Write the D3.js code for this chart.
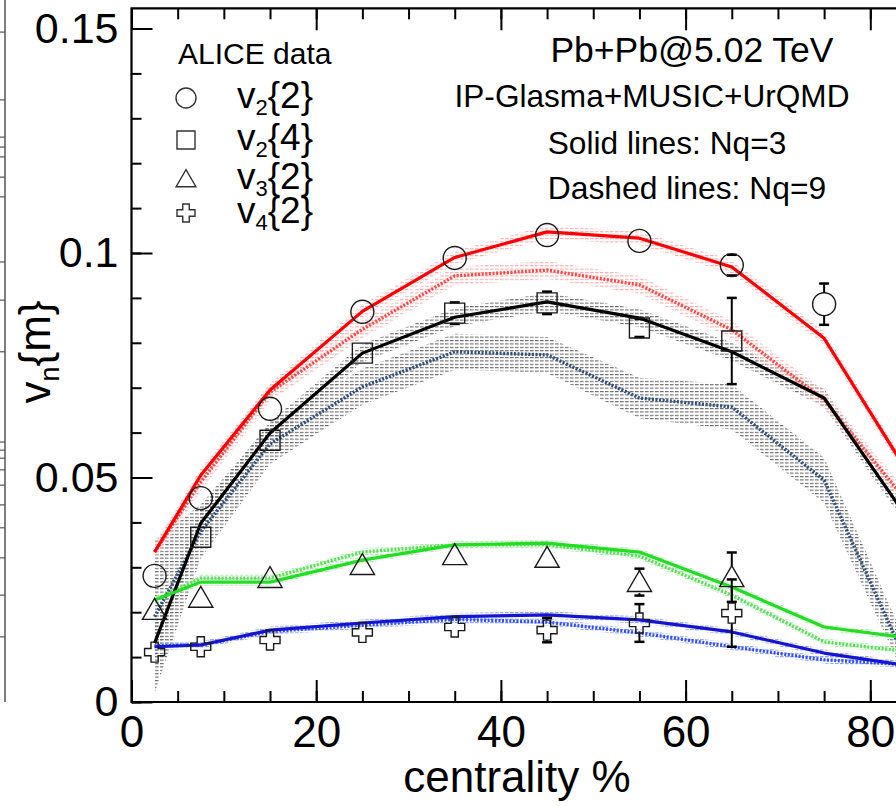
<!DOCTYPE html>
<html><head><meta charset="utf-8">
<script src="https://cdn.jsdelivr.net/npm/d3@7"></script>
<style>
html,body{margin:0;padding:0;background:#fff;}
svg{display:block;}
text{font-family:"Liberation Sans",Arial,Helvetica,sans-serif;fill:#000;}
</style></head>
<body>
<svg id="chart" width="896" height="806"></svg>
<script>
// ---------------- data ----------------
const dataCent   = [2.5, 7.5, 15, 25, 35, 45, 55, 65, 75];
const v22        = [0.0281, 0.0454, 0.0653, 0.0869, 0.0989, 0.1040, 0.1027, 0.0973, 0.0886];
const v22Err     = [0, 0, 0, 0, 0, 0, 0, 0.0023, 0.0046];
const v24Cent    = [7.5, 15, 25, 35, 45, 55, 65];
const v24        = [0.0367, 0.0583, 0.0777, 0.0866, 0.0889, 0.0833, 0.0804];
const v24Err     = [0, 0, 0, 0.0024, 0.0025, 0.0020, 0.0096];
const v3Cent     = [2.5, 7.5, 15, 25, 35, 45, 55, 65];
const v32        = [0.0205, 0.0232, 0.0276, 0.0305, 0.0327, 0.0321, 0.0267, 0.0278];
const v32Err     = [0, 0, 0, 0, 0, 0, 0.0030, 0.0055];
const v42        = [0.0111, 0.0123, 0.0138, 0.0155, 0.0167, 0.0160, 0.0176, 0.0198];
const v42Err     = [0, 0, 0, 0, 0, 0.0027, 0.0042, 0.0075];

const modelCent  = [2.5, 7.5, 15, 25, 35, 45, 55, 65, 75, 85];
const v22Nq3     = [0.0334, 0.0505, 0.0695, 0.0870, 0.0990, 0.1047, 0.1033, 0.0969, 0.0810, 0.0480];
const v22Nq3Err  = [0.0015, 0.0015, 0.0015, 0.0015, 0.0015, 0.0015, 0.0015, 0.0015, 0.0015, 0.0015];
const v22Nq9     = [0.0334, 0.0490, 0.0690, 0.0830, 0.0949, 0.0962, 0.0929, 0.0829, 0.0673, 0.0420];
const v22Nq9Err  = [0.0020, 0.0020, 0.0020, 0.0020, 0.0020, 0.0020, 0.0020, 0.0020, 0.0020, 0.0020];
const v24Nq3     = [0.0131, 0.0398, 0.0599, 0.0777, 0.0857, 0.0891, 0.0855, 0.0780, 0.0677, 0.0380];
const v24Nq3Err  = [0.0040, 0.0030, 0.0025, 0.0020, 0.0020, 0.0020, 0.0020, 0.0020, 0.0020, 0.0020];
const v24Nq9     = [0.0190, 0.0380, 0.0575, 0.0702, 0.0780, 0.0773, 0.0677, 0.0657, 0.0494, 0.0040];
const v24Nq9Err  = [0.0170, 0.0060, 0.0045, 0.0040, 0.0040, 0.0040, 0.0045, 0.0050, 0.0050, 0.0040];
const v32Nq3     = [0.0227, 0.0267, 0.0267, 0.0316, 0.0350, 0.0354, 0.0334, 0.0256, 0.0167, 0.0140];
const v32Nq9     = [0.0227, 0.0276, 0.0276, 0.0334, 0.0350, 0.0350, 0.0325, 0.0238, 0.0134, 0.0110];
const v42Nq3     = [0.0123, 0.0127, 0.0160, 0.0176, 0.0190, 0.0194, 0.0183, 0.0156, 0.0109, 0.0078];
const v42Nq9     = [0.0125, 0.0127, 0.0157, 0.0171, 0.0184, 0.0178, 0.0154, 0.0123, 0.0094, 0.0082];
const smallErr   = [0.0008, 0.0008, 0.0008, 0.0008, 0.0008, 0.0008, 0.0008, 0.0008, 0.0008, 0.0008];

const yTickLabels = [0, 0.05, 0.1, 0.15];
const xTickLabels = [0, 20, 40, 60, 80];
const neighbourTicks = [0.1492, 0.1341, 0.1258, 0.1236, 0.1214, 0.1169, 0.1125, 0.098, 0.0895, 0.078,
  0.0579, 0.0561, 0.0543, 0.0517, 0.0483, 0.0439, 0.0388, 0.0321, 0.0238, 0.0145];

const legendItems = [
  {sym: "circle",   n: "2", m: "2"},
  {sym: "square",   n: "2", m: "4"},
  {sym: "triangle", n: "3", m: "2"},
  {sym: "plus",     n: "4", m: "2"}
];
const infoLines = ["Pb+Pb@5.02 TeV", "IP-Glasma+MUSIC+UrQMD", "Solid lines: Nq=3", "Dashed lines: Nq=9"];

// ---------------- layout ----------------
const svg = d3.select("#chart");
const X0 = 131.5, PXU = 9.235;
const x = d3.scaleLinear().domain([0, 90]).range([X0, X0 + 90 * PXU]);
const y = d3.scaleLinear().domain([0, 0.1545]).range([702, 702 - 0.1545 * 4490]);
const [xL, xR] = x.range();
const [yB, yT] = y.range();

// patterns
const defs = svg.append("defs");
function hatch(id, color) {
  const p = defs.append("pattern").attr("id", id).attr("patternUnits", "userSpaceOnUse")
    .attr("width", 5).attr("height", 3.4);
  p.append("rect").attr("x", 0).attr("y", 0).attr("width", 3.6).attr("height", 1.1).attr("fill", color);
}
hatch("hGray", "#666");
hatch("hPink", "#ffaaaa");
hatch("hGreen", "#99f099");
hatch("hBlue", "#8899ff");
defs.append("clipPath").attr("id", "plotClip").append("rect")
  .attr("x", xL).attr("y", yT).attr("width", xR - xL).attr("height", yB - yT);

// neighbour panel (left, cut off)
const nb = svg.append("g");
nb.append("line").attr("x1", 5).attr("x2", 5).attr("y1", 0).attr("y2", yB).attr("stroke", "#555").attr("stroke-width", 1.5);
nb.selectAll("line.t").data(neighbourTicks).enter().append("line")
  .attr("x1", 0).attr("x2", 5).attr("y1", d => y(d)).attr("y2", d => y(d))
  .attr("stroke", "#555").attr("stroke-width", 1.2);

// plot area
const plot = svg.append("g").attr("clip-path", "url(#plotClip)");

const area = d3.area().x(d => x(d.c)).y0(d => y(d.v - d.e)).y1(d => y(d.v + d.e));
const line = d3.line().x(d => x(d.c)).y(d => y(d.v));
function pts(vals, errs) { return modelCent.map((c, i) => ({c, v: vals[i], e: errs ? errs[i] : 0})); }

const bands = [
  [v24Nq9, v24Nq9Err, "hGray"],
  [v24Nq3, v24Nq3Err, "hGray"],
  [v22Nq9, v22Nq9Err, "hPink"],
  [v22Nq3, v22Nq3Err, "hPink"],
  [v32Nq9, smallErr, "hGreen"],
  [v32Nq3, smallErr, "hGreen"],
  [v42Nq9, smallErr, "hBlue"],
  [v42Nq3, smallErr, "hBlue"]
];
bands.forEach(([v, e, pat]) => {
  plot.append("path").datum(pts(v, e)).attr("d", area).attr("fill", `url(#${pat})`);
});

const curves = [
  [v24Nq9, "#2d4f7c", true],
  [v22Nq9, "#ff4444", true],
  [v32Nq9, "#55e055", true],
  [v42Nq9, "#3050ff", true],
  [v24Nq3, "#000000", false],
  [v22Nq3, "#ff0000", false],
  [v32Nq3, "#22dd22", false],
  [v42Nq3, "#1515d0", false]
];
curves.forEach(([v, col, dashed]) => {
  plot.append("path").datum(pts(v)).attr("d", line).attr("fill", "none")
    .attr("stroke", col).attr("stroke-width", dashed ? 3.4 : 3.2)
    .attr("stroke-dasharray", dashed ? "2,1.6" : null)
    .attr("stroke-linejoin", "round");
});

// markers
const R = 11.5;
function markerPath(sym, s) {
  if (sym === "square") return `M${-s},${-s}H${s}V${s}H${-s}Z`;
  if (sym === "triangle") { const h = s * 1.9; return `M0,${-h * 0.55}L${s * 1.1},${h * 0.45}L${-s * 1.1},${h * 0.45}Z`; }
  const a = s * 0.36;
  return `M${-a},${-s}H${a}V${-a}H${s}V${a}H${a}V${s}H${-a}V${a}H${-s}V${-a}H${-a}Z`;
}
function drawMarker(g, sym, cx, cy, s, col) {
  if (sym === "circle") {
    g.append("circle").attr("cx", cx).attr("cy", cy).attr("r", s).attr("fill", "none").attr("stroke", col).attr("stroke-width", 1.4);
  } else {
    g.append("path").attr("d", markerPath(sym, s)).attr("transform", `translate(${cx},${cy})`)
      .attr("fill", "none").attr("stroke", col).attr("stroke-width", 1.4);
  }
}
const dataSets = [
  [dataCent, v22, v22Err, "circle", R],
  [v24Cent, v24, v24Err, "square", 10],
  [v3Cent, v32, v32Err, "triangle", 11],
  [v3Cent, v42, v42Err, "plus", 10]
];
const mk = svg.append("g");
dataSets.forEach(([cs, vs, es, sym, s]) => {
  cs.forEach((c, i) => {
    const cx = x(c), cy = y(vs[i]);
    const e = es[i];
    if (e > 0) {
      const top = y(vs[i] + e), bot = y(vs[i] - e);
      if (cy - s > top) mk.append("line").attr("x1", cx).attr("x2", cx).attr("y1", top).attr("y2", cy - s).attr("stroke", "#000").attr("stroke-width", 2);
      if (cy + s < bot) mk.append("line").attr("x1", cx).attr("x2", cx).attr("y1", cy + s).attr("y2", bot).attr("stroke", "#000").attr("stroke-width", 2);
      [top, bot].forEach(yy => mk.append("line").attr("x1", cx - 5).attr("x2", cx + 5).attr("y1", yy).attr("y2", yy).attr("stroke", "#000").attr("stroke-width", 2.5));
    }
    drawMarker(mk, sym, cx, cy, s, "#1a1a1a");
  });
});

// axes
const xMinor = d3.range(0, 90.001, 5);
const yMinor = d3.range(0, 0.1545, 0.01);
const axG = svg.append("g");
axG.append("g").attr("transform", `translate(0,${yB})`)
  .call(d3.axisBottom(x).tickValues(xMinor).tickSize(-11).tickFormat(""))
  .call(g => g.select(".domain").remove());
axG.append("g").attr("transform", `translate(0,${yB})`)
  .call(d3.axisBottom(x).tickValues(xTickLabels).tickSize(-22).tickPadding(14).tickFormat(d3.format("d")))
  .call(g => g.select(".domain").remove())
  .call(g => g.selectAll("text").attr("font-size", 44).attr("dy", "0.71em"));
axG.append("g").attr("transform", `translate(0,${yT})`)
  .call(d3.axisTop(x).tickValues(xMinor).tickSize(-11).tickFormat(""))
  .call(g => g.select(".domain").remove());
axG.append("g").attr("transform", `translate(0,${yT})`)
  .call(d3.axisTop(x).tickValues(xTickLabels).tickSize(-22).tickFormat(""))
  .call(g => g.select(".domain").remove());
axG.append("g").attr("transform", `translate(${xL},0)`)
  .call(d3.axisLeft(y).tickValues(yMinor).tickSize(-10).tickFormat(""))
  .call(g => g.select(".domain").remove());
axG.append("g").attr("transform", `translate(${xL},0)`)
  .call(d3.axisLeft(y).tickValues(yTickLabels).tickSize(-21).tickPadding(13).tickFormat(d => d === 0 ? "0" : String(d)))
  .call(g => g.select(".domain").remove())
  .call(g => g.selectAll("text").attr("font-size", 43));
axG.selectAll(".tick line").attr("stroke", "#000").attr("stroke-width", 2);
axG.selectAll(".tick text").attr("fill", "#000").attr("font-family", '"Liberation Sans",Arial,sans-serif');
svg.append("path").attr("d", `M${xR},${yT}H${xL}V${yB}H${xR}`).attr("fill", "none").attr("stroke", "#000").attr("stroke-width", 2.2);

// axis titles
svg.append("text").attr("x", 517).attr("y", 792).attr("text-anchor", "middle").attr("font-size", 44).text("centrality %");
const yt = svg.append("text").attr("transform", "translate(50,352) rotate(-90)").attr("text-anchor", "middle").attr("font-size", 44);
yt.append("tspan").text("v");
yt.append("tspan").attr("dy", 9).attr("font-size", 27).text("n");
yt.append("tspan").attr("dy", -9).text("{m}");

// legend
svg.append("text").attr("x", 178).attr("y", 64).attr("font-size", 30).text("ALICE data");
const legY = [98, 140, 179, 213];
legendItems.forEach((it, i) => {
  drawMarker(svg, it.sym, 186, legY[i], it.sym === "circle" ? 10 : 9, "#333");
  const t = svg.append("text").attr("x", 237).attr("y", legY[i] + 10).attr("font-size", 37);
  t.append("tspan").text("v");
  t.append("tspan").attr("dy", 7).attr("font-size", 22).text(it.n);
  t.append("tspan").attr("dy", -7).text(`{${it.m}}`);
});

// info text
const infoX = [692, 652, 667, 687];
const infoY = [62, 107, 154, 199];
const infoSize = [35.5, 31.6, 31.7, 31.8];
infoLines.forEach((s, i) => {
  svg.append("text").attr("x", infoX[i]).attr("y", infoY[i]).attr("text-anchor", "middle").attr("font-size", infoSize[i]).text(s);
});
</script>
</body></html>
